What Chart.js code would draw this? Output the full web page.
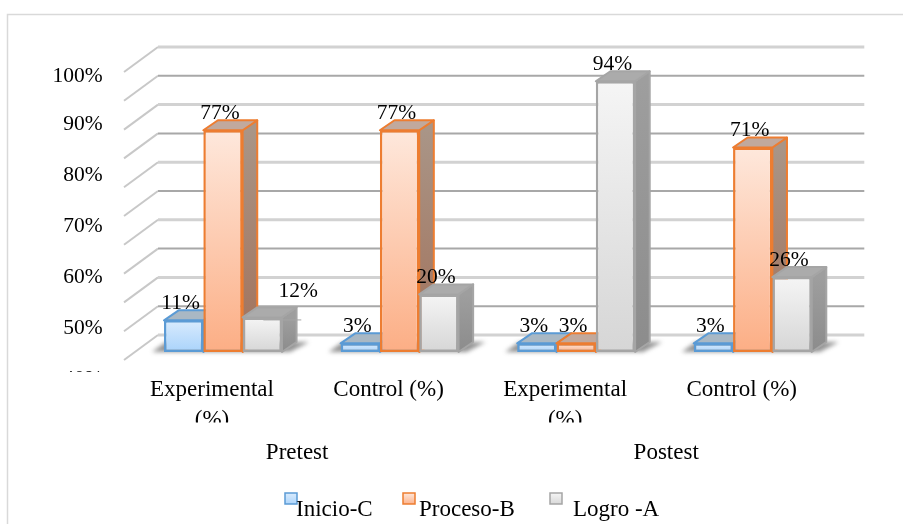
<!DOCTYPE html>
<html>
<head>
<meta charset="utf-8">
<style>
    html, body { margin: 0; padding: 0; background: #fff; }
    canvas { display: block; }
</style>
<script src="https://cdn.jsdelivr.net/npm/chart.js@4"></script>
</head>
<body>
<canvas id="chart" width="903" height="524"></canvas>
<script>
const categories = [['Experimental', '(%)'], 'Control (%)', ['Experimental', '(%)'], 'Control (%)'];
const groupLabels = ['Pretest', 'Postest'];
const groupPositions = [0.92, 3.01];
const seriesNames = ['Inicio-C', 'Proceso-B', 'Logro -A'];
const inicioValues = [11, 3, 3, 3];
const procesoValues = [77, 77, 3, 71];
const logroValues = [12, 20, 94, 26];
const gridValues = [0, 10, 20, 30, 40, 50, 60, 70, 80, 90, 100];
const tickLabels = ['40%', '50%', '60%', '70%', '80%', '90%', '100%'];
const tickPositions = [40, 50, 60, 70, 80, 90, 99.4];

const serif = "'Liberation Serif', 'Times New Roman', serif";
const styles = [
    {border: '#5b9bd5', front: ['#d9ebfd', '#a9d3fb'], top: '#a9b8c4', side: ['#8fa3b5', '#7d93a8']},
    {border: '#ed7d31', front: ['#fee8dc', '#fcae85'], top: '#c1a99d', side: ['#a99587', '#a2715a']},
    {border: '#a5a5a5', front: ['#f5f5f5', '#d6d6d6'], top: '#ababab', side: ['#9e9e9e', '#8c8c8c']}
];
const legendItems = [
    {boxX: 285, textX: 296},
    {boxX: 403, textX: 419},
    {boxX: 550, textX: 573}
];

// depth of the bars and of the walls behind them
const barDx = 14.6, barDy = 10;
const wallFront = {x: -10.7, y: 8};
const wallBack = {x: 23.3, y: -17};

function frontFill(i) {
    return function (c) {
        const y = c.chart.scales.y;
        if (!y || c.raw === undefined) return styles[i].front[1];
        const from = y.getPixelForValue(c.raw), to = y.getPixelForValue(0);
        if (!isFinite(from) || !isFinite(to)) return styles[i].front[1];
        const g = c.chart.ctx.createLinearGradient(0, from, 0, to);
        g.addColorStop(0, styles[i].front[0]);
        g.addColorStop(1, styles[i].front[1]);
        return g;
    };
}

function poly(ctx, pts) {
    ctx.beginPath();
    ctx.moveTo(pts[0][0], pts[0][1]);
    for (let i = 1; i < pts.length; i++) ctx.lineTo(pts[i][0], pts[i][1]);
    ctx.closePath();
}

const scene = {
    id: 'scene',
    beforeDraw(chart) {
        const ctx = chart.ctx;
        ctx.save();
        ctx.fillStyle = '#fff';
        ctx.fillRect(0, 0, chart.width, chart.height);
        ctx.strokeStyle = '#d9d9d9';
        ctx.lineWidth = 1.5;
        ctx.strokeRect(7.5, 14.5, 1200, 800);
        ctx.restore();
    },
    beforeDatasetsDraw(chart) {
        const ctx = chart.ctx, y = chart.scales.y, area = chart.chartArea;
        ctx.save();
        y.ticks.forEach(function (t, i) {
            const py = y.getPixelForValue(t.value);
            ctx.beginPath();
            ctx.moveTo(area.left + wallFront.x, py + wallFront.y);
            ctx.lineTo(area.left + wallBack.x, py + wallBack.y);
            ctx.strokeStyle = '#c8c8c8';
            ctx.lineWidth = 2;
            ctx.stroke();
            ctx.beginPath();
            ctx.moveTo(area.left + wallBack.x, py + wallBack.y);
            ctx.lineTo(area.right + wallBack.x, py + wallBack.y);
            ctx.strokeStyle = i % 2 === 0 ? '#d2d2d2' : '#a8a8a8';
            ctx.lineWidth = i % 2 === 0 ? 3 : 2;
            ctx.stroke();
        });
        // floor shadow of each cluster
        const first = chart.getDatasetMeta(0).data, last = chart.getDatasetMeta(2).data;
        ctx.filter = 'blur(2px)';
        ctx.fillStyle = 'rgba(60,60,60,0.55)';
        first.forEach(function (el, i) {
            const l = el.x - el.width / 2, end = last[i], r = end.x + end.width / 2, b = el.base;
            poly(ctx, [[l - 12, b], [l + 2, b - barDy], [r + 27, b - barDy], [r + 8, b]]);
            ctx.fill();
        });
        ctx.restore();
    },
    // chart.js paints the first dataset last, the 3d look needs it first,
    // so the bars are painted left to right in afterDatasetsDraw
    beforeDatasetDraw() {
        return false;
    },
    afterDatasetsDraw(chart) {
        const ctx = chart.ctx;
        chart.data.datasets.forEach(function (ds, s) {
            const st = styles[s];
            chart.getDatasetMeta(s).data.forEach(function (el) {
                const r = el.x + el.width / 2, l = el.x - el.width / 2, t = el.y, b = el.base;
                ctx.save();
                ctx.lineWidth = 2;
                ctx.strokeStyle = st.border;
                ctx.lineJoin = 'round';
                const g = ctx.createLinearGradient(0, t, 0, b);
                g.addColorStop(0, st.side[0]);
                g.addColorStop(1, st.side[1]);
                poly(ctx, [[r, t], [r + barDx, t - barDy], [r + barDx, b - barDy], [r, b]]);
                ctx.fillStyle = g;
                ctx.fill();
                ctx.stroke();
                poly(ctx, [[l, t], [r, t], [r + barDx, t - barDy], [l + barDx, t - barDy]]);
                ctx.fillStyle = st.top;
                ctx.fill();
                ctx.stroke();
                ctx.restore();
                el.draw(ctx);
            });
        });
        ctx.save();
        ctx.font = '21.5px ' + serif;
        ctx.fillStyle = '#000';
        ctx.textAlign = 'center';
        ctx.textBaseline = 'middle';
        chart.data.datasets.forEach(function (ds, s) {
            chart.getDatasetMeta(s).data.forEach(function (el, i) {
                let dx = -3, dy = -17;
                if (s === 2 && i === 0) {
                    // this one label was dragged off its bar, with a leader line
                    dx = 36;
                    dy = -26;
                    ctx.strokeStyle = '#a6a6a6';
                    ctx.lineWidth = 1;
                    ctx.beginPath();
                    ctx.moveTo(el.x + 1, el.y + 2.5);
                    ctx.lineTo(el.x + 39, el.y + 2.5);
                    ctx.stroke();
                }
                ctx.fillText(ds.data[i] + '%', el.x + dx, el.y + dy);
            });
        });
        ctx.restore();
    },
    afterDraw(chart) {
        const ctx = chart.ctx;
        ctx.save();
        // the original cuts off the lowest tick label and the second line of the categories
        ctx.fillStyle = '#fff';
        ctx.fillRect(40, 372, 84, 20);
        ctx.fillRect(130, 422.5, 700, 14);
        // legend
        ctx.font = '23px ' + serif;
        ctx.textBaseline = 'middle';
        ctx.fillStyle = '#000';
        chart.data.datasets.forEach(function (ds, i) {
            const item = legendItems[i], g = ctx.createLinearGradient(0, 493, 0, 505);
            g.addColorStop(0, styles[i].front[0]);
            g.addColorStop(1, styles[i].front[1]);
            ctx.fillStyle = g;
            ctx.strokeStyle = styles[i].border;
            ctx.lineWidth = 1.5;
            ctx.fillRect(item.boxX, 493, 12, 11);
            ctx.strokeRect(item.boxX, 493, 12, 11);
            ctx.fillStyle = '#000';
            ctx.fillText(seriesNames[i], item.textX, 510);
        });
        ctx.restore();
    }
};

const myChart = new Chart(document.getElementById('chart').getContext('2d'), {
    type: 'bar',
    data: {
        labels: categories,
        datasets: [inicioValues, procesoValues, logroValues].map(function (values, i) {
            return {
                label: seriesNames[i],
                data: values,
                backgroundColor: frontFill(i),
                borderColor: styles[i].border,
                borderWidth: 2.5,
                borderSkipped: false,
                barPercentage: 1,
                categoryPercentage: 0.668
            };
        })
    },
    options: {
        responsive: false,
        animation: false,
        events: [],
        layout: {padding: {top: 64, right: 62, left: 0, bottom: 0}},
        plugins: {legend: {display: false}, tooltip: {enabled: false}},
        scales: {
            x: {
                weight: 0,
                grid: {display: false},
                border: {display: false},
                afterFit(s) { s.height = 60; },
                ticks: {
                    color: '#000',
                    font: {family: serif, size: 23, lineHeight: 1.3},
                    padding: -11,
                    labelOffset: -11,
                    maxRotation: 0,
                    autoSkip: false
                }
            },
            xGroup: {
                type: 'linear',
                position: 'bottom',
                weight: 1,
                offset: false,
                min: 0,
                max: 4,
                grid: {display: false},
                border: {display: false},
                afterFit(s) { s.height = 86; },
                afterBuildTicks(s) { s.ticks = groupPositions.map(function (v) { return {value: v}; }); },
                ticks: {
                    color: '#000',
                    font: {family: serif, size: 23},
                    padding: -7,
                    maxRotation: 0,
                    autoSkip: false,
                    callback: function (v, i) { return groupLabels[i]; }
                }
            },
            y: {
                display: false,
                min: -9.03,
                max: 100,
                afterBuildTicks(s) { s.ticks = gridValues.map(function (v) { return {value: v}; }); }
            },
            yLabels: {
                position: 'left',
                min: 40.3,
                max: 101.87,
                grid: {display: false},
                border: {display: false},
                afterFit(s) { s.width = 134.7; },
                afterBuildTicks(s) { s.ticks = tickPositions.map(function (v) { return {value: v}; }); },
                ticks: {
                    color: '#000',
                    font: {family: serif, size: 21.5},
                    padding: 24,
                    autoSkip: false,
                    callback: function (v, i) { return tickLabels[i]; }
                }
            }
        }
    },
    plugins: [scene]
});
</script>
</body>
</html>
